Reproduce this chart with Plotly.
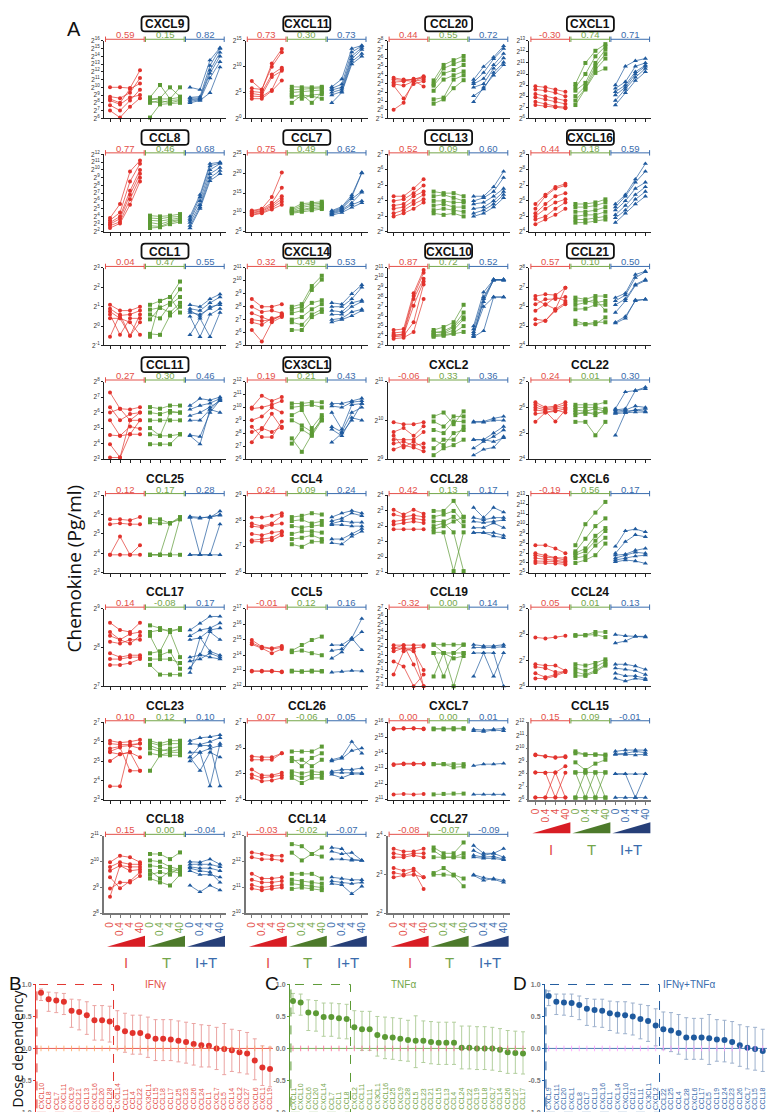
import plotly.graph_objects as go

W, H = 775, 1112

# ---- panel A: log2 concentration (pg/ml) per donor at doses 0 / 0.4 / 4 / 40 ----
# each chemokine: [IFNg donors, TNFa donors, IFNg+TNFa donors]
CXCL9 = [
    [[10.0, 10.0, 9.9, 12.2], [8.8, 8.6, 9.3, 11.2], [8.5, 8.0, 9.8, 10.5], [8.3, 7.8, 8.7, 9.0], [7.7, 7.0, 8.3, 9.7], [7.0, 6.1, 7.5, 8.6]],
    [[8.7, 10.3, 8.5, 10.0], [8.5, 8.6, 10.0, 8.8], [8.4, 8.5, 8.5, 8.7], [8.2, 8.0, 8.3, 8.4], [8.0, 8.3, 8.0, 8.3], [6.1, 7.8, 7.9, 8.0]],
    [[10.0, 9.7, 13.5, 15.1], [8.7, 8.8, 12.8, 15.0], [8.6, 8.6, 12.2, 14.5], [8.4, 8.5, 11.8, 14.0], [8.2, 8.4, 11.2, 13.3], [8.0, 8.3, 9.3, 12.6]],
]
CXCL11 = [
    [[7.2, 5.5, 10.6, 13.4], [5.8, 5.6, 10.0, 12.8], [5.2, 5.0, 8.5, 9.8], [4.8, 4.5, 8.0, 9.2], [4.3, 4.2, 5.5, 9.5], [3.8, 3.8, 5.3, 7.3]],
    [[6.1, 6.0, 6.0, 6.1], [5.5, 5.6, 5.8, 5.9], [5.0, 5.2, 5.3, 5.5], [4.5, 3.8, 4.5, 4.7], [4.2, 4.6, 3.0, 5.0], [3.0, 4.5, 4.3, 3.8]],
    [[6.1, 7.6, 13.5, 14.1], [5.8, 6.6, 12.8, 14.0], [5.5, 6.0, 12.0, 13.7], [5.0, 5.6, 11.5, 13.3], [4.5, 5.2, 11.0, 12.5], [3.0, 5.0, 10.5, 12.0]],
]
CCL20 = [
    [[3.7, 3.5, 3.5, 3.9], [3.5, 3.4, 3.3, 3.8], [3.2, 3.3, 3.6, 3.7], [3.0, 2.8, 3.3, 3.5], [2.8, 1.3, 3.0, 3.3], [0.0, 0.8, 3.4, 2.7]],
    [[3.4, 5.2, 5.75, 6.24], [3.0, 4.8, 5.3, 5.75], [2.8, 4.2, 4.6, 5.19], [2.2, 3.5, 4.0, 4.44], [1.2, 1.4, 3.5, 4.0], [0.7, 1.2, 2.5, 3.43]],
    [[3.5, 5.0, 6.1, 7.4], [3.2, 4.3, 5.9, 7.1], [3.0, 3.6, 5.2, 6.5], [2.6, 3.0, 4.8, 6.0], [1.6, 2.4, 4.3, 5.5], [0.9, 2.6, 4.0, 5.2]],
]
CXCL1 = [
    [[8.9, 8.8, 8.6, 8.4], [8.6, 8.5, 8.3, 8.0], [8.2, 8.0, 7.8, 7.6], [7.9, 7.7, 7.5, 7.3], [7.5, 7.3, 7.1, 7.0], [7.2, 7.1, 7.0, 6.9]],
    [[9.1, 11.0, 12.1, 12.7], [8.8, 10.0, 11.6, 12.5], [8.5, 9.2, 11.0, 12.2], [8.0, 8.9, 10.7, 11.8], [7.6, 8.7, 10.4, 11.4], [7.2, 8.6, 10.1, 10.5]],
    [[9.0, 10.7, 11.2, 11.4], [8.7, 9.3, 10.7, 11.0], [8.4, 9.0, 10.2, 10.8], [8.1, 8.8, 10.0, 10.7], [7.6, 8.6, 9.7, 10.5], [7.2, 8.3, 9.4, 10.2]],
]
CCL8 = [
    [[3.8, 5.6, 9.8, 11.2], [3.5, 4.5, 8.5, 10.8], [3.2, 4.0, 7.3, 10.0], [3.0, 3.7, 6.8, 9.5], [2.8, 3.3, 6.2, 9.0], [2.5, 3.1, 5.5, 8.5]],
    [[4.1, 4.0, 4.1, 4.3], [3.8, 3.7, 3.9, 4.0], [3.5, 3.4, 3.6, 3.8], [3.2, 3.0, 3.4, 3.6], [2.8, 2.7, 3.2, 3.5], [2.5, 2.6, 3.0, 3.3]],
    [[4.0, 6.8, 10.8, 11.0], [3.7, 6.5, 10.5, 10.9], [3.5, 6.0, 10.0, 10.8], [3.2, 5.5, 9.5, 10.3], [2.8, 5.2, 9.0, 9.9], [2.5, 5.0, 8.6, 9.5]],
]
CCL7 = [
    [[10.5, 11.0, 14.0, 20.3], [10.3, 10.8, 12.5, 16.4], [10.0, 10.5, 12.0, 14.2], [9.8, 10.3, 11.6, 13.5], [9.5, 10.0, 11.2, 12.8], [9.3, 9.8, 10.8, 12.0]],
    [[11.0, 12.3, 12.5, 12.8], [10.7, 11.8, 12.2, 12.4], [10.4, 11.3, 11.8, 12.0], [10.2, 10.8, 11.3, 11.6], [10.0, 10.5, 11.0, 11.2], [9.8, 10.2, 10.6, 10.9]],
    [[10.5, 11.5, 14.5, 20.3], [10.3, 11.2, 14.0, 20.2], [10.0, 11.0, 13.5, 15.5], [9.8, 10.7, 12.5, 15.2], [9.6, 10.4, 12.0, 13.0], [9.3, 10.0, 11.3, 12.5]],
]
CCL13 = [
    [[4.3, 4.3, 4.8, 5.4], [4.0, 4.1, 4.5, 5.0], [3.7, 3.8, 4.3, 4.6], [3.5, 3.6, 4.0, 4.4], [3.2, 3.4, 3.8, 4.1], [3.0, 3.2, 3.5, 3.9]],
    [[4.6, 4.5, 4.5, 4.3], [4.3, 4.4, 4.2, 4.0], [4.0, 4.0, 3.9, 3.9], [3.7, 3.8, 3.6, 3.6], [3.4, 3.5, 3.4, 3.3], [3.2, 3.1, 3.2, 3.0]],
    [[4.3, 4.3, 4.9, 5.9], [4.0, 4.2, 4.6, 5.5], [3.8, 3.9, 4.3, 4.8], [3.5, 3.6, 4.0, 4.6], [3.2, 3.4, 3.8, 4.4], [3.0, 3.2, 3.6, 4.2]],
]
CXCL16 = [
    [[5.8, 6.4, 6.9, 7.1], [5.5, 6.3, 6.8, 7.0], [5.2, 5.8, 6.3, 6.5], [5.0, 5.5, 5.9, 6.1], [4.8, 5.0, 5.5, 5.9], [4.5, 4.8, 5.1, 5.5]],
    [[5.8, 5.8, 5.9, 6.1], [5.6, 5.6, 5.7, 5.9], [5.3, 5.3, 5.4, 5.6], [5.0, 5.1, 5.1, 5.3], [4.8, 4.8, 4.9, 5.0], [4.6, 4.6, 4.7, 4.8]],
    [[5.8, 6.4, 7.4, 8.4], [5.6, 6.3, 7.2, 7.9], [5.4, 6.0, 6.8, 7.2], [5.1, 5.7, 6.4, 6.9], [4.9, 5.4, 6.1, 6.6], [4.6, 5.2, 5.8, 6.3]],
]
CCL1 = [
    [[1.1, 0.8, 0.8, 1.0], [0.9, 0.55, 0.6, 0.8], [0.75, 0.4, -0.5, 0.6], [0.6, -0.45, 0.4, 0.4], [0.4, 0.4, 0.2, -0.45], [-0.55, 0.6, -0.5, 0.2]],
    [[1.1, 1.3, 1.5, 2.3], [0.85, 0.95, 1.2, 1.9], [0.6, 0.4, 1.1, 1.5], [0.35, 0.95, 0.7, 1.2], [-0.4, -0.45, 0.55, 1.0], [-0.55, 1.3, 1.5, 0.7]],
    [[1.1, 1.0, 1.4, 1.65], [0.9, 0.8, 1.2, 1.5], [0.7, 0.6, 0.9, 1.2], [0.5, -0.55, 0.6, 0.9], [-0.45, 0.4, -0.55, 0.7], [0.8, 0.5, 1.0, 1.1]],
]
CXCL14 = [
    [[8.6, 8.0, 8.0, 8.2], [8.0, 7.6, 7.7, 7.5], [7.5, 7.2, 6.9, 7.4], [7.0, 6.9, 7.0, 7.3], [6.2, 5.3, 6.8, 7.2], [6.8, 6.6, 7.1, 7.3]],
    [[8.0, 8.2, 9.6, 10.4], [7.8, 8.0, 9.3, 10.1], [7.5, 7.7, 8.3, 8.5], [7.0, 7.2, 7.8, 8.2], [6.8, 6.6, 7.4, 7.8], [6.2, 6.2, 7.2, 7.6]],
    [[8.3, 8.2, 9.0, 9.7], [8.0, 8.0, 8.6, 9.5], [7.7, 7.6, 8.3, 8.5], [7.4, 7.4, 8.0, 8.4], [7.0, 7.1, 7.6, 7.8], [6.8, 7.0, 7.3, 7.7]],
]
CXCL10 = [
    [[4.6, 4.7, 8.4, 10.8], [4.3, 4.4, 8.1, 10.5], [4.1, 4.1, 7.1, 9.6], [3.9, 4.0, 5.4, 9.3], [3.7, 3.8, 4.4, 7.8], [4.0, 4.2, 7.8, 9.9]],
    [[4.6, 4.9, 5.4, 7.2], [4.3, 4.5, 5.0, 6.4], [4.1, 4.2, 4.6, 5.7], [4.0, 4.1, 4.3, 5.0], [3.9, 4.0, 4.2, 4.4], [4.4, 4.3, 4.9, 5.9]],
    [[5.0, 8.5, 9.8, 9.8], [4.7, 8.0, 9.8, 9.8], [4.4, 7.5, 9.8, 9.7], [4.2, 7.0, 8.0, 8.0], [3.9, 4.5, 8.0, 8.0], [4.0, 7.8, 9.7, 9.8]],
]
CCL21 = [
    [[6.55, 6.64, 6.6, 6.98], [6.13, 6.38, 6.4, 6.5], [5.79, 6.13, 5.87, 6.21], [5.36, 5.28, 5.79, 6.13], [5.1, 5.28, 5.87, 6.98], [6.4, 6.1, 6.5, 6.3]],
    [[6.47, 6.38, 6.55, 6.55], [6.3, 6.3, 6.21, 6.3], [6.1, 6.21, 6.38, 5.8], [5.87, 5.9, 6.1, 6.1], [5.28, 5.1, 5.1, 5.45], [5.1, 5.1, 5.2, 5.2]],
    [[6.47, 6.7, 7.66, 7.83], [6.3, 6.6, 7.5, 7.8], [6.1, 6.4, 7.15, 7.4], [5.7, 6.3, 7.1, 7.35], [5.2, 5.5, 6.3, 6.38], [5.15, 5.4, 6.35, 6.38]],
]
CCL11 = [
    [[7.3, 6.25, 6.2, 6.35], [6.35, 5.5, 5.9, 6.0], [6.0, 6.25, 5.5, 5.5], [5.5, 4.5, 4.6, 5.5], [4.55, 4.5, 5.1, 4.96], [3.96, 3.1, 4.6, 4.6], [3.1, 3.1, 5.5, 6.0]],
    [[6.35, 6.25, 6.45, 6.45], [6.0, 5.9, 6.1, 6.0], [5.5, 5.5, 5.5, 5.5], [4.6, 4.5, 4.5, 4.6], [3.96, 3.96, 3.96, 4.6], [5.0, 4.5, 6.0, 6.0]],
    [[6.45, 6.9, 6.8, 7.0], [6.2, 6.45, 6.6, 6.9], [5.8, 6.0, 6.35, 6.75], [5.5, 5.5, 6.2, 6.0], [4.55, 4.45, 6.0, 6.8], [4.5, 3.96, 6.2, 6.85]],
]
CX3CL1 = [
    [[10.0, 10.9, 10.5, 10.8], [9.9, 10.0, 10.2, 10.5], [9.0, 9.3, 10.0, 9.6], [8.5, 7.7, 7.7, 8.9], [8.1, 8.4, 8.1, 8.5], [7.3, 8.3, 9.5, 8.4]],
    [[10.3, 10.3, 10.4, 10.4], [10.0, 10.1, 10.2, 10.0], [9.4, 9.8, 8.4, 9.4], [9.0, 8.6, 8.1, 9.0], [7.6, 6.56, 7.9, 9.2], [7.2, 8.3, 7.8, 9.0]],
    [[10.3, 10.3, 10.5, 10.7], [10.1, 10.0, 10.4, 10.5], [9.6, 8.3, 10.2, 10.3], [8.5, 8.1, 9.6, 10.0], [8.3, 7.8, 9.2, 9.0], [7.3, 8.0, 9.0, 10.3]],
]
CXCL2 = [
    [[9.95, 9.9, 9.9, 9.95], [9.7, 9.8, 9.6, 9.85], [9.5, 9.5, 9.5, 9.7], [9.4, 9.45, 9.35, 9.4], [9.25, 9.35, 9.3, 9.2], [9.6, 9.3, 9.45, 9.3]],
    [[10.1, 10.2, 9.9, 10.23], [9.97, 9.84, 10.1, 10.1], [9.75, 9.67, 9.97, 9.97], [9.5, 9.36, 9.67, 9.75], [9.28, 9.5, 9.5, 9.84], [9.1, 9.28, 9.36, 9.5]],
    [[9.97, 9.97, 10.05, 10.1], [9.95, 9.95, 10.0, 10.0], [9.5, 9.5, 9.67, 9.84], [9.28, 9.45, 9.58, 9.75], [9.1, 9.25, 9.3, 9.58], [9.5, 9.5, 9.45, 9.55]],
]
CCL22 = [
    [[6.2, 6.0, 6.05, 6.2], [6.1, 5.95, 6.0, 6.1], [6.0, 5.9, 5.95, 6.0], [5.9, 5.85, 5.45, 5.9], [5.75, 5.8, 5.85, 5.95], [5.44, 5.8, 5.9, 5.8]],
    [[6.1, 6.1, 6.1, 6.2], [6.0, 6.0, 6.0, 5.95], [5.9, 5.85, 5.95, 5.85], [5.8, 5.75, 5.8, 5.8], [5.44, 5.44, 4.92, 5.44], [5.7, 5.85, 5.7, 5.9]],
    [[5.95, 6.6, 6.65, 6.78], [5.9, 5.95, 6.65, 6.72], [5.85, 5.9, 6.05, 6.0], [5.8, 5.85, 5.9, 5.95], [5.76, 5.8, 5.82, 5.82], [4.92, 5.8, 5.9, 5.85]],
]
CCL25 = [
    [[5.75, 5.75, 5.7, 5.87], [5.5, 5.55, 5.5, 5.5], [3.92, 4.87, 3.92, 4.42], [3.92, 3.92, 3.92, 3.92]],
    [[5.75, 5.75, 5.55, 5.87], [5.6, 5.55, 5.55, 5.75], [3.92, 3.92, 5.55, 5.8], [3.92, 3.92, 3.92, 5.8], [3.92, 3.92, 3.92, 3.92]],
    [[5.9, 5.85, 5.85, 6.17], [5.85, 5.8, 5.9, 5.95], [5.85, 3.92, 5.85, 6.0], [3.92, 3.92, 3.92, 5.5], [3.92, 3.92, 3.92, 3.92]],
]
CCL4 = [
    [[8.13, 8.13, 8.2, 8.3], [7.9, 7.8, 7.9, 8.2], [7.8, 7.75, 7.85, 7.9], [7.5, 7.45, 7.55, 7.6], [7.25, 7.3, 7.35, 7.55], [7.2, 7.2, 7.25, 7.45]],
    [[8.15, 8.2, 8.3, 8.25], [8.0, 8.05, 7.9, 8.0], [7.8, 7.75, 7.8, 7.85], [7.5, 7.6, 7.6, 7.55], [7.3, 7.35, 7.45, 7.3], [7.1, 7.0, 7.2, 7.2]],
    [[8.15, 8.3, 8.4, 8.3], [8.0, 8.1, 8.3, 8.2], [7.9, 8.0, 7.95, 7.95], [7.85, 7.85, 7.8, 7.8], [7.3, 7.3, 7.5, 7.7], [7.15, 7.1, 7.4, 7.6]],
]
CCL28 = [
    [[3.06, 2.75, 3.06, 2.8], [2.75, 2.6, 2.7, 2.6], [2.3, 2.4, 2.5, 2.4], [2.1, 2.2, 2.3, 2.2], [1.8, 1.8, 1.8, 1.8]],
    [[2.98, 2.98, 3.63, 2.6], [2.6, 2.75, 2.98, 2.3], [2.3, 2.3, 2.6, 2.0], [2.0, 2.2, 1.6, -0.9], [1.6, 1.6, -0.9, 1.6], [1.8, 2.0, 2.3, 2.6]],
    [[3.2, 2.55, 3.2, 2.9], [2.55, 2.4, 2.55, 2.55], [2.3, 2.23, 2.3, 2.4], [1.9, 1.9, 2.2, 1.9], [1.58, 1.58, 1.58, 1.4], [1.58, 1.58, 1.36, 1.25]],
]
CXCL6 = [
    [[7.83, 7.83, 7.5, 7.0], [7.0, 6.8, 6.55, 6.5], [6.8, 6.6, 6.5, 6.3], [6.5, 6.4, 6.3, 6.15], [6.2, 6.15, 6.15, 6.0], [6.0, 6.0, 5.95, 5.85]],
    [[7.83, 10.0, 11.2, 12.3], [7.2, 8.5, 9.8, 10.6], [7.0, 7.5, 8.8, 9.6], [6.8, 7.2, 8.3, 9.3], [6.5, 6.7, 7.8, 8.6], [6.0, 6.3, 6.8, 8.0]],
    [[7.7, 9.3, 9.5, 9.2], [7.0, 8.2, 8.9, 8.7], [6.8, 6.9, 7.3, 7.5], [6.5, 6.8, 7.1, 7.0], [6.3, 6.5, 6.7, 6.8], [6.1, 6.3, 6.2, 5.95]],
]
CCL17 = [
    [[8.64, 8.45, 8.4, 8.64], [8.4, 8.2, 8.35, 8.4], [8.3, 8.2, 8.1, 8.3], [8.15, 8.1, 8.2, 8.2], [7.85, 7.75, 7.8, 7.8], [7.7, 7.7, 7.75, 7.75], [7.55, 7.55, 7.6, 7.7]],
    [[8.57, 8.5, 8.4, 8.5], [8.4, 8.45, 8.45, 8.45], [7.85, 7.9, 8.4, 7.75], [7.7, 7.7, 7.7, 7.6], [7.55, 7.3, 7.3, 7.3], [8.3, 7.8, 7.9, 7.45]],
    [[8.45, 8.62, 8.8, 8.8], [8.3, 8.45, 8.5, 8.63], [8.2, 8.25, 8.45, 8.5], [7.75, 7.8, 8.4, 8.2], [7.65, 7.7, 7.85, 7.75], [7.47, 7.82, 7.75, 7.7], [7.35, 8.25, 7.9, 7.8]],
]
CCL5 = [
    [[14.98, 14.55, 14.45, 14.6], [14.8, 14.5, 14.4, 14.5], [14.7, 14.45, 14.13, 14.4], [13.0, 12.95, 12.95, 12.95], [12.95, 13.0, 13.0, 12.9]],
    [[14.3, 14.66, 14.98, 15.2], [14.2, 14.3, 14.13, 14.0], [12.95, 12.95, 13.0, 12.98], [13.0, 12.95, 12.95, 12.95]],
    [[14.66, 14.66, 15.1, 16.36], [14.3, 14.4, 15.0, 15.5], [13.8, 14.2, 15.1, 14.34], [12.9, 12.95, 13.0, 12.98]],
]
CCL19 = [
    [[2.3, 2.3, 2.3, 2.3], [1.9, 1.9, 1.9, 2.1], [1.5, 1.9, 1.5, -0.9], [0.2, -0.45, -3.0, -1.5], [-1.5, 1.5, 1.9, -3.0], [1.9, 2.3, -0.2, -3.0]],
    [[2.36, 2.36, 2.36, 2.36], [1.29, 1.29, 1.29, 2.36], [1.29, -1.74, 1.29, 1.29], [-1.74, 1.29, 0.6, 0.9], [2.36, 1.29, -3.0, 1.29]],
    [[2.36, 2.2, 2.2, 2.36], [2.0, 2.0, 2.0, 2.1], [-1.74, 1.29, -1.74, 1.29], [1.29, 1.29, 1.29, -3.0]],
]
CCL24 = [
    [[7.89, 7.85, 7.9, 7.95], [6.85, 6.8, 6.8, 6.6], [6.75, 6.7, 6.55, 6.55], [6.5, 6.35, 6.45, 6.6], [6.3, 6.3, 6.4, 6.55]],
    [[7.98, 7.98, 8.1, 8.1], [7.95, 7.97, 8.0, 7.9], [6.85, 6.8, 6.9, 7.04], [6.7, 6.6, 6.75, 6.95], [6.55, 6.45, 6.6, 6.85], [6.4, 6.4, 6.55, 6.8]],
    [[8.0, 7.95, 7.93, 7.93], [7.67, 7.75, 7.93, 7.9], [6.85, 6.85, 6.78, 6.65], [6.7, 6.65, 6.6, 6.45], [6.5, 6.4, 6.4, 6.3], [6.3, 6.2, 6.3, 6.25]],
]
CCL23 = [
    [[6.05, 5.95, 6.0, 6.1], [5.9, 5.85, 5.85, 5.9], [5.65, 5.75, 5.8, 5.65], [5.45, 5.35, 5.45, 5.2], [5.0, 5.35, 5.45, 4.5], [3.7, 3.7, 5.8, 5.9], [5.5, 5.7, 4.5, 4.5]],
    [[6.05, 5.9, 6.05, 6.05], [5.95, 5.8, 5.9, 5.9], [5.65, 5.5, 5.65, 5.75], [5.4, 5.3, 5.45, 5.45], [4.5, 5.3, 5.3, 5.3], [5.8, 5.6, 5.5, 5.6]],
    [[6.05, 6.2, 6.25, 6.35], [5.9, 5.85, 6.0, 6.2], [5.45, 5.45, 5.65, 5.8], [5.2, 4.5, 5.45, 5.2], [5.0, 5.45, 3.7, 5.9], [5.2, 5.8, 5.8, 3.7]],
]
CCL26 = [
    [[5.68, 5.65, 5.65, 5.8], [5.55, 5.55, 5.55, 5.8], [5.17, 4.95, 4.95, 5.05], [4.98, 4.85, 4.9, 4.95], [4.85, 4.72, 4.75, 4.85]],
    [[5.87, 5.87, 5.87, 6.06], [5.62, 5.3, 5.62, 5.8], [5.5, 5.55, 5.3, 5.55], [5.1, 5.02, 5.1, 5.05], [4.98, 4.85, 4.98, 4.98], [4.85, 4.65, 4.85, 4.85]],
    [[5.55, 5.65, 6.25, 5.8], [5.5, 5.6, 5.9, 6.0], [5.1, 5.17, 5.17, 5.23], [5.05, 5.05, 5.05, 5.04], [4.98, 4.85, 5.0, 5.0]],
]
CXCL7 = [
    [[15.6, 15.62, 15.6, 15.6], [15.55, 15.6, 15.62, 15.55], [13.3, 13.35, 13.35, 13.3], [13.25, 13.3, 13.3, 13.35], [11.35, 11.38, 11.35, 11.38]],
    [[15.6, 15.6, 15.62, 15.62], [15.55, 15.55, 15.55, 15.58], [13.3, 13.3, 13.3, 13.3], [13.3, 13.3, 13.1, 13.15], [11.35, 11.38, 11.4, 11.4]],
    [[15.55, 15.5, 15.55, 15.6], [15.45, 15.4, 15.5, 15.45], [13.2, 13.3, 13.3, 13.35], [11.35, 11.35, 11.35, 11.35]],
]
CCL15 = [
    [[9.5, 9.37, 9.25, 9.3], [9.45, 9.35, 9.3, 9.37], [8.12, 8.1, 8.12, 8.6], [8.12, 8.1, 6.17, 8.1], [6.17, 6.17, 8.12, 6.17], [6.17, 6.17, 6.17, 6.17]],
    [[9.75, 9.5, 9.5, 9.5], [9.6, 9.5, 9.5, 9.4], [8.9, 8.3, 8.8, 9.1], [8.12, 6.17, 8.12, 8.12], [6.17, 8.12, 6.17, 8.12], [6.17, 6.17, 6.17, 6.17], [8.12, 8.12, 8.12, 6.17]],
    [[9.75, 9.85, 9.85, 9.85], [9.55, 9.6, 9.75, 9.65], [9.5, 9.5, 9.45, 9.5], [8.0, 8.0, 8.0, 8.0], [8.0, 8.0, 6.17, 8.0], [6.17, 6.17, 6.17, 6.17]],
]
CCL18 = [
    [[9.98, 10.23, 10.17, 9.98], [9.8, 9.98, 9.9, 9.9], [9.65, 9.85, 9.65, 9.7], [9.4, 8.97, 9.25, 9.6], [8.96, 9.2, 9.2, 9.45], [8.64, 9.85, 9.8, 9.8]],
    [[10.3, 10.3, 10.1, 10.36], [10.05, 10.0, 9.8, 9.7], [9.85, 9.8, 9.7, 9.65], [9.65, 9.35, 9.65, 9.55], [9.35, 9.2, 9.08, 9.5], [9.5, 9.6, 9.5, 9.8]],
    [[10.0, 9.98, 10.1, 9.9], [9.9, 9.9, 9.9, 9.8], [9.8, 9.75, 9.75, 9.65], [9.65, 9.5, 9.5, 9.4], [9.08, 8.83, 9.08, 8.9], [9.75, 9.65, 9.6, 9.2]],
]
CCL14 = [
    [[12.36, 12.3, 12.23, 12.23], [12.17, 12.1, 12.1, 12.05], [11.53, 11.35, 11.35, 11.4], [11.3, 11.2, 11.2, 11.25], [11.1, 11.0, 11.05, 11.1], [10.96, 10.9, 10.95, 11.0]],
    [[12.68, 12.6, 12.3, 12.55], [12.35, 12.05, 12.3, 12.2], [11.53, 11.53, 11.53, 11.35], [11.3, 11.25, 11.2, 11.15], [11.15, 11.1, 11.05, 11.0], [10.95, 11.0, 10.95, 10.9]],
    [[12.55, 12.5, 12.1, 12.05], [12.4, 12.3, 12.35, 12.05], [12.1, 12.1, 12.05, 12.05], [11.4, 11.35, 11.3, 11.3], [11.25, 11.2, 11.15, 11.2], [11.15, 11.1, 10.76, 11.05]],
]
CCL27 = [
    [[3.67, 3.6, 3.6, 3.67], [3.55, 3.5, 3.55, 3.55], [3.45, 3.45, 3.5, 3.45], [3.17, 3.1, 3.15, 2.93], [3.05, 3.0, 3.1, 2.63], [2.93, 2.98, 3.0, 2.93]],
    [[3.7, 3.55, 3.55, 3.83], [3.62, 3.45, 3.45, 3.55], [3.45, 3.45, 3.45, 3.45], [3.04, 3.17, 3.0, 2.9], [3.0, 3.0, 2.98, 2.7]],
    [[3.75, 3.55, 3.55, 3.67], [3.62, 3.5, 3.55, 3.45], [3.5, 3.45, 3.47, 3.4], [3.45, 3.42, 3.42, 3.38], [3.0, 2.92, 2.88, 2.8], [2.98, 2.85, 2.9, 2.85]],
]

PANELS = ["CXCL9", "CXCL11", "CCL20", "CXCL1", "CCL8", "CCL7", "CCL13", "CXCL16",
          "CCL1", "CXCL14", "CXCL10", "CCL21", "CCL11", "CX3CL1", "CXCL2", "CCL22",
          "CCL25", "CCL4", "CCL28", "CXCL6", "CCL17", "CCL5", "CCL19", "CCL24",
          "CCL23", "CCL26", "CXCL7", "CCL15", "CCL18", "CCL14", "CCL27"]
PANEL_DATA = [CXCL9, CXCL11, CCL20, CXCL1, CCL8, CCL7, CCL13, CXCL16,
              CCL1, CXCL14, CXCL10, CCL21, CCL11, CX3CL1, CXCL2, CCL22,
              CCL25, CCL4, CCL28, CXCL6, CCL17, CCL5, CCL19, CCL24,
              CCL23, CCL26, CXCL7, CCL15, CCL18, CCL14, CCL27]
N_BOXED = 14

# y-axis limits as log2 exponents (low, high, tick step)
YLIM = [(6, 16, 1), (0, 15, 5), (-1, 8, 1), (6, 13, 1), (2, 12, 1), (5, 25, 5), (2, 7, 1), (4, 9, 1),
        (-1, 3, 1), (5, 11, 1), (3, 11, 1), (4, 8, 1), (3, 8, 1), (6, 12, 1), (9, 11, 1), (4, 7, 1),
        (3, 7, 1), (6, 9, 1), (-1, 4, 1), (5, 13, 1), (7, 9, 1), (12, 17, 1), (-3, 7, 1), (6, 9, 1),
        (3, 7, 1), (4, 7, 1), (11, 16, 1), (6, 12, 1), (8, 11, 1), (10, 13, 1), (2, 4, 1)]

# dose dependency (IFNg, TNFa, IFNg+TNFa) in PANELS order
DD_I = [0.59, 0.73, 0.44, -0.30, 0.77, 0.75, 0.52, 0.44, 0.04, 0.32, 0.87, 0.57, 0.27, 0.19, -0.06, 0.24,
        0.12, 0.24, 0.42, -0.19, 0.14, -0.01, -0.32, 0.05, 0.10, 0.07, 0.00, 0.15, 0.15, -0.03, -0.08]
DD_T = [0.15, 0.30, 0.55, 0.74, 0.46, 0.49, 0.09, 0.18, 0.47, 0.49, 0.72, 0.10, 0.30, 0.21, 0.33, 0.01,
        0.17, 0.09, 0.13, 0.56, -0.08, 0.12, 0.00, 0.01, 0.12, -0.06, 0.00, 0.09, 0.00, -0.02, -0.07]
DD_IT = [0.82, 0.73, 0.72, 0.71, 0.68, 0.62, 0.60, 0.59, 0.55, 0.53, 0.52, 0.50, 0.46, 0.43, 0.36, 0.30,
         0.28, 0.24, 0.17, 0.17, 0.17, 0.16, 0.14, 0.13, 0.10, 0.05, 0.01, -0.01, -0.04, -0.07, -0.09]

DOSES = ["0", "0.4", "4", "40"]

# ---- panels B-D: ranked dose dependency with confidence intervals ----
B_ORDER = ["CXCL10", "CCL8", "CCL7", "CXCL11", "CXCL9", "CCL21", "CCL13", "CXCL16", "CCL20", "CCL28",
           "CXCL14", "CCL11", "CCL4", "CCL22", "CX3CL1", "CCL15", "CCL18", "CCL17", "CCL25", "CCL23",
           "CCL26", "CCL24", "CCL1", "CXCL7", "CCL5", "CCL14", "CXCL2", "CCL27", "CXCL6", "CXCL1", "CCL19"]
B_UP = [0.93, 0.88, 0.87, 0.86, 0.77, 0.76, 0.73, 0.67, 0.67, 0.66, 0.59, 0.55, 0.52, 0.52, 0.49, 0.45,
        0.45, 0.45, 0.43, 0.41, 0.39, 0.37, 0.36, 0.33, 0.39, 0.30, 0.28, 0.25, 0.15, 0.04, 0.02]
B_LO = [0.75, 0.58, 0.56, 0.53, 0.33, 0.29, 0.22, 0.13, 0.13, 0.10, -0.01, -0.06, -0.09, -0.09, -0.14, -0.19,
        -0.19, -0.19, -0.21, -0.23, -0.26, -0.29, -0.29, -0.33, -0.41, -0.36, -0.38, -0.40, -0.49, -0.58, -0.60]

C_ORDER = ["CXCL1", "CXCL10", "CXCL6", "CCL20", "CXCL14", "CCL7", "CCL1", "CCL8", "CXCL2", "CXCL11",
           "CCL11", "CX3CL1", "CXCL16", "CCL25", "CXCL9", "CCL28", "CCL5", "CCL23", "CCL21", "CCL15",
           "CCL13", "CCL4", "CCL24", "CCL22", "CCL19", "CCL18", "CXCL7", "CCL14", "CCL26", "CCL27", "CCL17"]
C_UP = [0.86, 0.85, 0.76, 0.75, 0.71, 0.71, 0.70, 0.69, 0.59, 0.58, 0.58, 0.50, 0.49, 0.48, 0.47, 0.44,
        0.51, 0.43, 0.42, 0.41, 0.41, 0.41, 0.35, 0.35, 0.34, 0.34, 0.33, 0.31, 0.28, 0.27, 0.26]
C_LO = [0.55, 0.52, 0.28, 0.27, 0.19, 0.19, 0.16, 0.15, 0.00, -0.03, -0.03, -0.12, -0.16, -0.17, -0.19, -0.20,
        -0.30, -0.22, -0.24, -0.25, -0.25, -0.25, -0.32, -0.32, -0.33, -0.33, -0.34, -0.36, -0.39, -0.39, -0.40]

D_ORDER = ["CXCL9", "CXCL11", "CCL20", "CXCL1", "CCL8", "CCL7", "CCL13", "CXCL16", "CCL1", "CXCL14",
           "CXCL10", "CCL21", "CCL11", "CX3CL1", "CXCL2", "CCL22", "CCL25", "CCL4", "CCL28", "CXCL6",
           "CCL17", "CCL5", "CCL19", "CCL24", "CCL23", "CCL26", "CXCL7", "CCL15", "CCL18", "CCL14", "CCL27"]
D_UP = [0.90, 0.85, 0.85, 0.85, 0.82, 0.78, 0.77, 0.77, 0.74, 0.73, 0.73, 0.71, 0.69, 0.67, 0.62, 0.57,
        0.56, 0.53, 0.48, 0.47, 0.47, 0.53, 0.45, 0.44, 0.42, 0.37, 0.34, 0.33, 0.30, 0.27, 0.24]
D_LO = [0.67, 0.53, 0.52, 0.50, 0.45, 0.36, 0.34, 0.33, 0.28, 0.24, 0.23, 0.21, 0.15, 0.11, 0.04, -0.02,
        -0.05, -0.09, -0.17, -0.17, -0.17, -0.25, -0.20, -0.21, -0.23, -0.28, -0.32, -0.34, -0.36, -0.39, -0.41]

# ---- styling ----
FONT = "Liberation Sans, Arial, sans-serif"
COLORS = ["#e2332d", "#5c9a35", "#1f5a9e"]
TEXT_COLORS = ["#e4504a", "#74a64a", "#3a6cad"]
WEDGE_COLORS = ["#d81d24", "#4d7a2b", "#263f78"]
LIGHT = ["#eba4a2", "#b3cf9e", "#9db1cd"]
SYMBOLS = ["circle", "square", "triangle-up"]
GROUP_NAMES = ["I", "T", "I+T"]
BOTTOM = {27, 28, 29, 30}


def px_x(v):
    return v / W


def px_y(v):
    return 1 - v / H


def axis_ids(n):
    s = "" if n == 1 else str(n)
    return f"x{s}", f"y{s}", f"xaxis{s}", f"yaxis{s}"


def rounded_box(cx, cy, w, h, r=3.5):
    # rounded rectangle path in paper coordinates, sizes in pixels
    x0, x1 = px_x(cx - w / 2), px_x(cx + w / 2)
    y0, y1 = px_y(cy + h / 2), px_y(cy - h / 2)
    rx, ry = r / W, r / H
    return (f"M {x0 + rx},{y0} L {x1 - rx},{y0} Q {x1},{y0} {x1},{y0 + ry} "
            f"L {x1},{y1 - ry} Q {x1},{y1} {x1 - rx},{y1} L {x0 + rx},{y1} "
            f"Q {x0},{y1} {x0},{y1 - ry} L {x0},{y0 + ry} Q {x0},{y0} {x0 + rx},{y0} Z")


fig = go.Figure()
layout = dict(width=W, height=H, margin=dict(l=0, r=0, t=0, b=0), showlegend=False,
              plot_bgcolor="white", paper_bgcolor="white", font=dict(family=FONT, color="#222"))
shapes, annotations = [], []

for i, name in enumerate(PANELS):
    xa, ya, xkey, ykey = axis_ids(i + 1)
    r, c = divmod(i, 4)
    x0 = 96 + 141.8 * c
    x1 = x0 + 122
    ty = 13 + 114.3 * r
    top, bot = ty + 16, ty + 94
    lo, hi, step = YLIM[i]
    last = i in BOTTOM
    axcol = "#777" if last else "#222"

    for g in range(3):
        xs, ys = [], []
        for donor in PANEL_DATA[i][g]:
            for d, v in enumerate(donor):
                xs.append(4 * g + d)
                ys.append(2 ** v)
            xs.append(None)
            ys.append(None)
        fig.add_trace(go.Scatter(
            x=xs, y=ys, xaxis=xa, yaxis=ya, mode="lines+markers", cliponaxis=False,
            line=dict(color=COLORS[g], width=0.7),
            marker=dict(symbol=SYMBOLS[g], size=4.5 if g == 2 else 4, color=COLORS[g]),
            hoverinfo="skip"))

        # range bar with end caps and dose dependency value
        b0, b1 = 4 * g - 0.45, 4 * g + 3.42
        shapes.append(dict(type="line", xref=xa, yref=f"{ya} domain", x0=b0, x1=b1, y0=1.02, y1=1.02,
                           line=dict(color=TEXT_COLORS[g], width=1)))
        for bx in (b0, b1):
            shapes.append(dict(type="line", xref=xa, yref=f"{ya} domain", x0=bx, x1=bx, y0=0.985, y1=1.055,
                               line=dict(color=TEXT_COLORS[g], width=1)))
        val = [DD_I, DD_T, DD_IT][g][i]
        annotations.append(dict(text=f"{val:.2f}", xref=xa, yref=f"{ya} domain", x=4 * g + 1.5, y=1.0,
                                xanchor="center", yanchor="bottom", yshift=-1.5, showarrow=False,
                                font=dict(size=9.5, color=TEXT_COLORS[g])))

        if last:
            shapes.append(dict(type="path", xref=xa, yref=f"{ya} domain",
                               path=f"M {4*g-0.3},-0.43 L {4*g+3.5},-0.43 L {4*g+3.5},-0.29 Z",
                               fillcolor=WEDGE_COLORS[g], line=dict(width=0)))
            annotations.append(dict(text=GROUP_NAMES[g], xref=xa, yref=f"{ya} domain", x=4 * g + 1.6, y=-0.5,
                                    xanchor="center", yanchor="top", showarrow=False,
                                    font=dict(size=15, color=TEXT_COLORS[g])))

    ticktext = [f'<span style="color:{TEXT_COLORS[k // 4]}">{DOSES[k % 4]}</span>' for k in range(12)]
    layout[xkey] = dict(domain=[px_x(x0), px_x(x1)], range=[-0.6, 11.6], anchor=ya,
                        tickvals=list(range(12)), ticktext=ticktext, showticklabels=last,
                        tickangle=-90, tickfont=dict(size=10), ticks="outside", ticklen=3,
                        tickcolor=axcol, showline=True, linecolor=axcol,
                        linewidth=1.6 if last else 1, showgrid=False, zeroline=False)
    tv = list(range(lo, hi + 1, step))
    layout[ykey] = dict(domain=[px_y(bot), px_y(top)], type="log",
                        range=[lo * 0.30103, hi * 0.30103], anchor=xa,
                        tickvals=[2 ** k for k in tv], ticktext=[f"2<sup>{k}</sup>" for k in tv],
                        tickfont=dict(size=6.5, color="#333"), ticks="outside", ticklen=2,
                        tickcolor=axcol, showline=True, linecolor=axcol,
                        linewidth=1.6 if last else 1, showgrid=False, zeroline=False)

    cx = (x0 + x1) / 2
    if i < N_BOXED:
        shapes.append(dict(type="path", xref="paper", yref="paper", path=rounded_box(cx, ty - 1, 47, 15),
                           line=dict(color="#111", width=1.8), fillcolor="white"))
    annotations.append(dict(text=f"<b>{name}</b>", xref="paper", yref="paper", x=px_x(cx), y=px_y(ty - 0.5),
                            xanchor="center", yanchor="middle", showarrow=False,
                            font=dict(size=12, color="#111")))

# ---- ranked dose dependency panels ----
DD = [dict(zip(PANELS, DD_I)), dict(zip(PANELS, DD_T)), dict(zip(PANELS, DD_IT))]
bottom_panels = [
    (B_ORDER, B_UP, B_LO, 10, 28, 265, -0.655, "IFN\u03b3", 147, "center", "B", 7),
    (C_ORDER, C_UP, C_LO, 8, 282, 518, -0.39, "TNF\u03b1", 395, "center", "C", 264),
    (D_ORDER, D_UP, D_LO, 15, 537, 773, -0.48, "IFN\u03b3+TNF\u03b1", 653, "left", "D", 512),
]
ytop, ybot = 978, 1108
for k, (order, up, lo, nbox, x0, x1, xl, ttl, tx, tanchor, letter, lx) in enumerate(bottom_panels):
    xa, ya, xkey, ykey = axis_ids(32 + k)
    vals = [DD[k][c] for c in order]
    idx = list(range(len(order)))
    fig.add_trace(go.Scatter(
        x=idx, y=vals, xaxis=xa, yaxis=ya, mode="markers", cliponaxis=False,
        marker=dict(size=6, color=COLORS[k]),
        error_y=dict(type="data", symmetric=False,
                     array=[u - v for u, v in zip(up, vals)],
                     arrayminus=[v - l for v, l in zip(vals, lo)],
                     color=LIGHT[k], thickness=1, width=2),
        hoverinfo="skip"))
    # zero line with a small tick at each chemokine
    shapes.append(dict(type="line", xref=f"{xa} domain", yref=ya, x0=0, x1=1, y0=0, y1=0,
                       line=dict(color=COLORS[k], width=0.8), layer="below"))
    fig.add_trace(go.Scatter(x=idx, y=[0] * len(idx), xaxis=xa, yaxis=ya, mode="markers",
                             marker=dict(symbol="line-ns-open", size=4,
                                         line=dict(color=COLORS[k], width=0.8)),
                             hoverinfo="skip"))
    shapes.append(dict(type="rect", xref=xa, yref=ya, x0=xl + 0.12, x1=nbox - 0.5, y0=-1.0, y1=1.0,
                       line=dict(color=COLORS[k], width=1, dash="dash")))
    layout[xkey] = dict(domain=[px_x(x0), px_x(x1)], range=[xl, 30.39], anchor=ya,
                        showticklabels=False, ticks="", showline=False, showgrid=False, zeroline=False)
    layout[ykey] = dict(domain=[px_y(ybot), px_y(ytop)], range=[-1.01, 1.01], anchor=xa,
                        tickvals=[-1, -0.5, 0, 0.5, 1],
                        ticktext=["<b>-1.0</b>", "<b>-0.5</b>", "<b>0.0</b>", "<b>0.5</b>", "<b>1.0</b>"],
                        tickfont=dict(size=7, color="#777"), ticks="outside", ticklen=2,
                        tickcolor=COLORS[k], showline=True, linecolor=COLORS[k], linewidth=1,
                        showgrid=False, zeroline=False)
    for j, c in enumerate(order):
        annotations.append(dict(text=c, xref=xa, yref=ya, x=j, y=-0.99, yanchor="bottom", xanchor="center",
                                textangle=-90, showarrow=False, font=dict(size=7, color=TEXT_COLORS[k])))
    annotations.append(dict(text=ttl, xref="paper", yref="paper", x=px_x(tx), y=px_y(979), xanchor=tanchor,
                            yanchor="middle", showarrow=False, font=dict(size=10, color=TEXT_COLORS[k])))
    annotations.append(dict(text=letter, xref="paper", yref="paper", x=px_x(lx), y=px_y(978),
                            xanchor="center", yanchor="middle", showarrow=False,
                            font=dict(size=19, color="#111")))

annotations.append(dict(text="A", xref="paper", yref="paper", x=px_x(66), y=px_y(17), xanchor="center",
                        yanchor="middle", showarrow=False, font=dict(size=20, color="#111")))
annotations.append(dict(text="Chemokine (Pg/ml)", xref="paper", yref="paper", x=px_x(66), y=px_y(560),
                        xanchor="center", yanchor="middle", textangle=-90, showarrow=False,
                        font=dict(family="Open Sans", size=19, color="#111")))
annotations.append(dict(text="Dose dependency", xref="paper", yref="paper", x=px_x(9), y=px_y(1043),
                        xanchor="center", yanchor="middle", textangle=-90, showarrow=False,
                        font=dict(family="Open Sans", size=14, color="#111")))

layout["shapes"] = shapes
layout["annotations"] = annotations
fig.update_layout(**layout)
fig.write_html("out.html")
